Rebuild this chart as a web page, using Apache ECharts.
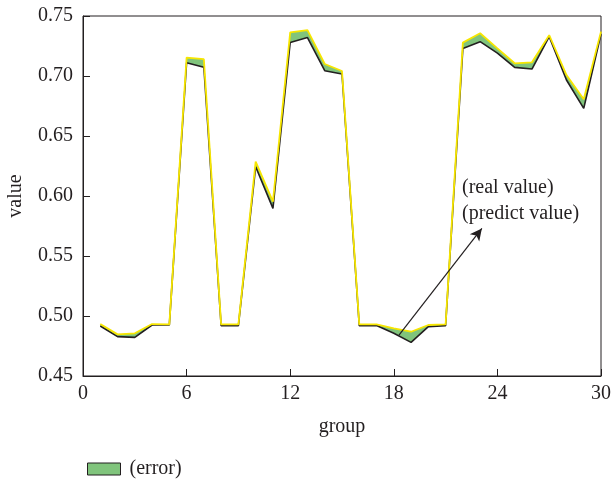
<!DOCTYPE html>
<html>
<head>
<meta charset="utf-8">
<script src="https://cdn.jsdelivr.net/npm/echarts@6/dist/echarts.min.js"></script>
<style>
  html, body { margin: 0; padding: 0; background: #fff; }
  #chart { width: 613px; height: 481px; }
</style>
</head>
<body>
<div id="chart"></div>
<script>
// data
var groups = [1, 2, 3, 4, 5, 6, 7, 8, 9, 10, 11, 12, 13, 14, 15, 16, 17, 18, 19, 20, 21, 22, 23, 24, 25, 26, 27, 28, 29, 30]
var realValue = [0.4933, 0.4847, 0.4856, 0.4933, 0.4930, 0.7153, 0.7140, 0.4930, 0.4930, 0.6286,
  0.5953, 0.7364, 0.7383, 0.7100, 0.7042, 0.4930, 0.4930, 0.4897, 0.4869, 0.4925,
  0.4930, 0.7278, 0.7356, 0.7230, 0.7106, 0.7114, 0.7340, 0.7008, 0.6806, 0.7370]
var predictValue = [0.4917, 0.4828, 0.4822, 0.4925, 0.4925, 0.7110, 0.7073, 0.4919, 0.4920, 0.6244,
  0.5897, 0.7280, 0.7320, 0.7044, 0.7017, 0.4919, 0.4920, 0.4856, 0.4780, 0.4911,
  0.4920, 0.7230, 0.7286, 0.7190, 0.7072, 0.7058, 0.7328, 0.6967, 0.6730, 0.7350]
var arrowFrom = [18.3, 0.484]
var arrowTo = [23.1, 0.573]

var FONT = 'Liberation Serif'
var FS = 20
var TXT = '#231f20'
var GREEN = '#80c47c'

function pairs(ys) {
  return groups.map(function (g, i) { return [g, ys[i]] })
}

// green band between the two lines, one polygon through the axes' scales
function renderBand(params, api) {
  if (params.dataIndex !== 0) return
  var top = groups.map(function (g, i) { return api.coord([g, realValue[i]]) })
  var bottom = groups.map(function (g, i) { return api.coord([g, predictValue[i]]) }).reverse()
  return {
    type: 'polygon',
    shape: { points: top.concat(bottom) },
    style: { fill: GREEN }
  }
}

var chart = echarts.init(document.getElementById('chart'))
chart.setOption({
  animation: false,
  textStyle: { fontFamily: FONT },
  grid: {
    left: 83,
    right: 12,
    top: 16,
    bottom: 105,
    outerBoundsMode: 'none',
    show: true,
    borderColor: '#231f20',
    borderWidth: 1
  },
  legend: {
    left: 82,
    top: 454,
    itemWidth: 33,
    itemHeight: 12,
    textStyle: { fontFamily: FONT, fontSize: FS, color: TXT, padding: [0, 0, 0, 4] },
    data: [{
      name: '(error)',
      icon: 'rect',
      itemStyle: { color: GREEN, borderColor: '#231f20', borderWidth: 1 }
    }],
    selectedMode: false
  },
  xAxis: {
    type: 'value',
    min: 0,
    max: 30,
    interval: 6,
    name: 'group',
    nameLocation: 'middle',
    nameGap: 41,
    nameTextStyle: { fontFamily: FONT, fontSize: FS, color: TXT },
    axisLine: { lineStyle: { color: '#231f20', width: 1 } },
    axisTick: { inside: true, length: 7, lineStyle: { color: '#231f20' } },
    axisLabel: { fontFamily: FONT, fontSize: FS, color: TXT, margin: 8 },
    splitLine: { show: false }
  },
  yAxis: {
    type: 'value',
    min: 0.45,
    max: 0.75,
    interval: 0.05,
    name: 'value',
    nameLocation: 'middle',
    nameGap: 57,
    nameTextStyle: { fontFamily: FONT, fontSize: FS, color: TXT },
    axisLine: { show: true, lineStyle: { color: '#231f20', width: 1 } },
    axisTick: { show: true, inside: true, length: 7, lineStyle: { color: '#231f20' } },
    axisLabel: {
      fontFamily: FONT, fontSize: FS, color: TXT, margin: 10,
      formatter: function (v) { return v.toFixed(2) }
    },
    splitLine: { show: false }
  },
  series: [{
    name: '(error)',
    type: 'custom',
    data: pairs(realValue),
    renderItem: renderBand,
    itemStyle: { color: GREEN },
    z: 2,
    silent: true
  }, {
    name: 'predict value',
    type: 'line',
    data: pairs(predictValue),
    symbol: 'none',
    z: 3,
    lineStyle: { color: '#231f20', width: 1.6 },
    markLine: {
      silent: true,
      symbol: ['none', 'arrow'],
      symbolSize: [9, 12],
      label: { show: false },
      lineStyle: { color: '#231f20', width: 1.2, type: 'solid' },
      data: [[{ coord: arrowFrom }, { coord: arrowTo }]]
    }
  }, {
    name: 'real value',
    type: 'line',
    data: pairs(realValue),
    symbol: 'none',
    z: 4,
    lineStyle: { color: '#f7e600', width: 1.8 }
  }],
  graphic: [{
    type: 'text',
    left: 462,
    top: 178,
    z: 10,
    style: { text: '(real value)', font: FS + 'px "Liberation Serif"', fill: TXT }
  }, {
    type: 'text',
    left: 462,
    top: 204,
    z: 10,
    style: { text: '(predict value)', font: FS + 'px "Liberation Serif"', fill: TXT }
  }]
})
</script>
</body>
</html>
